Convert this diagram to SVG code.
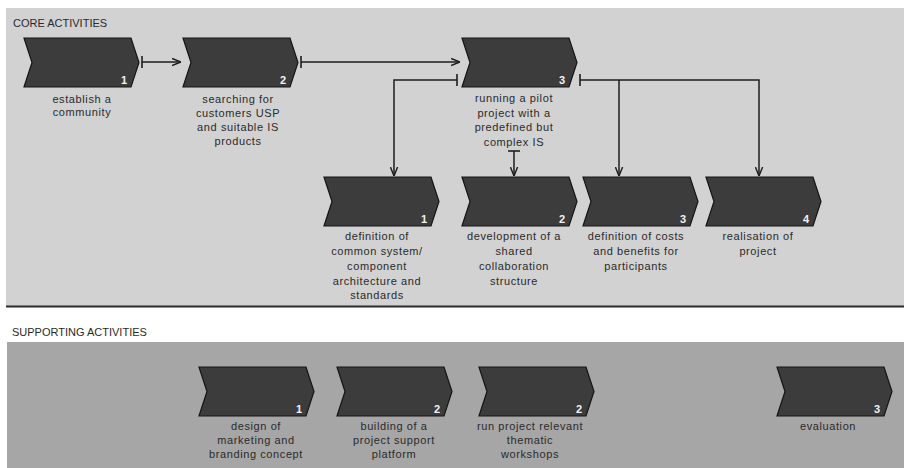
<svg xmlns="http://www.w3.org/2000/svg" width="904" height="468" viewBox="0 0 904 468">
<defs>
<style>
.chev{fill:#3c3c3c;stroke:#151515;stroke-width:1.2}
.num{font-family:"Liberation Sans",Arial,sans-serif;font-size:11px;font-weight:bold;fill:#f2f2f2;text-anchor:end}
.lbl{font-family:"Liberation Sans",Arial,sans-serif;font-size:11px;letter-spacing:0.6px;fill:#2a2a2a;text-anchor:middle}
.ttl{font-family:"Liberation Sans",Arial,sans-serif;font-size:11px;fill:#2a2a2a}
.con{fill:none;stroke:#1e1e1e;stroke-width:1.5}
</style>
<path id="chv" d="M0,0 H107 L115,24.5 L107,49 H0 L8,24.5 Z"/>
<marker id="arr" viewBox="0 0 10 10" refX="10" refY="5" markerWidth="9" markerHeight="9" markerUnits="userSpaceOnUse" orient="auto"><path d="M0,1 L10,5 L0,9" fill="none" stroke="#1e1e1e" stroke-width="1.6"/></marker>
<marker id="tee" viewBox="0 0 4 12" refX="2" refY="6" markerWidth="4" markerHeight="12" markerUnits="userSpaceOnUse" orient="auto"><path d="M2,0 V12" stroke="#1e1e1e" stroke-width="1.6"/></marker>
</defs>
<rect width="904" height="468" fill="#ffffff"/>
<rect id="core-panel" x="6" y="8" width="898" height="298" fill="#d2d2d2"/>
<line x1="6" y1="306.5" x2="904" y2="306.5" stroke="#2a2a2a" stroke-width="2"/>
<rect id="support-panel" x="7" y="342" width="897" height="126" fill="#a6a6a6"/>
<text class="ttl" x="13" y="27">CORE ACTIVITIES</text>
<text class="ttl" x="12" y="336">SUPPORTING ACTIVITIES</text>

<g id="connectors">
<path class="con" d="M142,62 H181" marker-start="url(#tee)" marker-end="url(#arr)"/>
<path class="con" d="M301,62 H460" marker-start="url(#tee)" marker-end="url(#arr)"/>
<path class="con" d="M457,80 H394 V176" marker-start="url(#tee)" marker-end="url(#arr)"/>
<path class="con" d="M580,80 H759 V176" marker-start="url(#tee)" marker-end="url(#arr)"/>
<path class="con" d="M619,80 V176" marker-end="url(#arr)"/>
<path class="con" d="M514,151 V176" marker-start="url(#tee)" marker-end="url(#arr)"/>
</g>

<g id="c1"><use href="#chv" class="chev" x="24" y="38"/><text class="num" x="127" y="84">1</text>
<text class="lbl" x="82" y="103">establish a</text><text class="lbl" x="82" y="116">community</text></g>
<g id="c2"><use href="#chv" class="chev" x="183" y="38"/><text class="num" x="286" y="84">2</text>
<text class="lbl" x="238" y="103">searching for</text><text class="lbl" x="238" y="117">customers USP</text><text class="lbl" x="238" y="131">and suitable IS</text><text class="lbl" x="238" y="145">products</text></g>
<g id="c3"><use href="#chv" class="chev" x="462" y="38"/><text class="num" x="565" y="84">3</text>
<text class="lbl" x="514" y="102">running a pilot</text><text class="lbl" x="514" y="117">project with a</text><text class="lbl" x="514" y="131">predefined but</text><text class="lbl" x="514" y="146">complex IS</text></g>

<g id="s1"><use href="#chv" class="chev" x="324" y="177"/><text class="num" x="427" y="223">1</text>
<text class="lbl" x="377" y="240">definition of</text><text class="lbl" x="377" y="255">common system/</text><text class="lbl" x="377" y="270">component</text><text class="lbl" x="377" y="285">architecture and</text><text class="lbl" x="377" y="299">standards</text></g>
<g id="s2"><use href="#chv" class="chev" x="462" y="177"/><text class="num" x="565" y="223">2</text>
<text class="lbl" x="514" y="240">development of a</text><text class="lbl" x="514" y="255">shared</text><text class="lbl" x="514" y="270">collaboration</text><text class="lbl" x="514" y="285">structure</text></g>
<g id="s3"><use href="#chv" class="chev" x="583" y="177"/><text class="num" x="686" y="223">3</text>
<text class="lbl" x="636" y="240">definition of costs</text><text class="lbl" x="636" y="255">and benefits for</text><text class="lbl" x="636" y="270">participants</text></g>
<g id="s4"><use href="#chv" class="chev" x="706" y="177"/><text class="num" x="809" y="223">4</text>
<text class="lbl" x="758" y="240">realisation of</text><text class="lbl" x="758" y="255">project</text></g>

<g id="b1"><use href="#chv" class="chev" x="199" y="367"/><text class="num" x="302" y="413">1</text>
<text class="lbl" x="256" y="430">design of</text><text class="lbl" x="256" y="444">marketing and</text><text class="lbl" x="256" y="458">branding concept</text></g>
<g id="b2"><use href="#chv" class="chev" x="337" y="367"/><text class="num" x="440" y="413">2</text>
<text class="lbl" x="394" y="430">building of a</text><text class="lbl" x="394" y="444">project support</text><text class="lbl" x="394" y="458">platform</text></g>
<g id="b3"><use href="#chv" class="chev" x="479" y="367"/><text class="num" x="582" y="413">2</text>
<text class="lbl" x="530" y="430">run project relevant</text><text class="lbl" x="530" y="444">thematic</text><text class="lbl" x="530" y="458">workshops</text></g>
<g id="b4"><use href="#chv" class="chev" x="777" y="367"/><text class="num" x="880" y="413">3</text>
<text class="lbl" x="828" y="430">evaluation</text></g>
</svg>
